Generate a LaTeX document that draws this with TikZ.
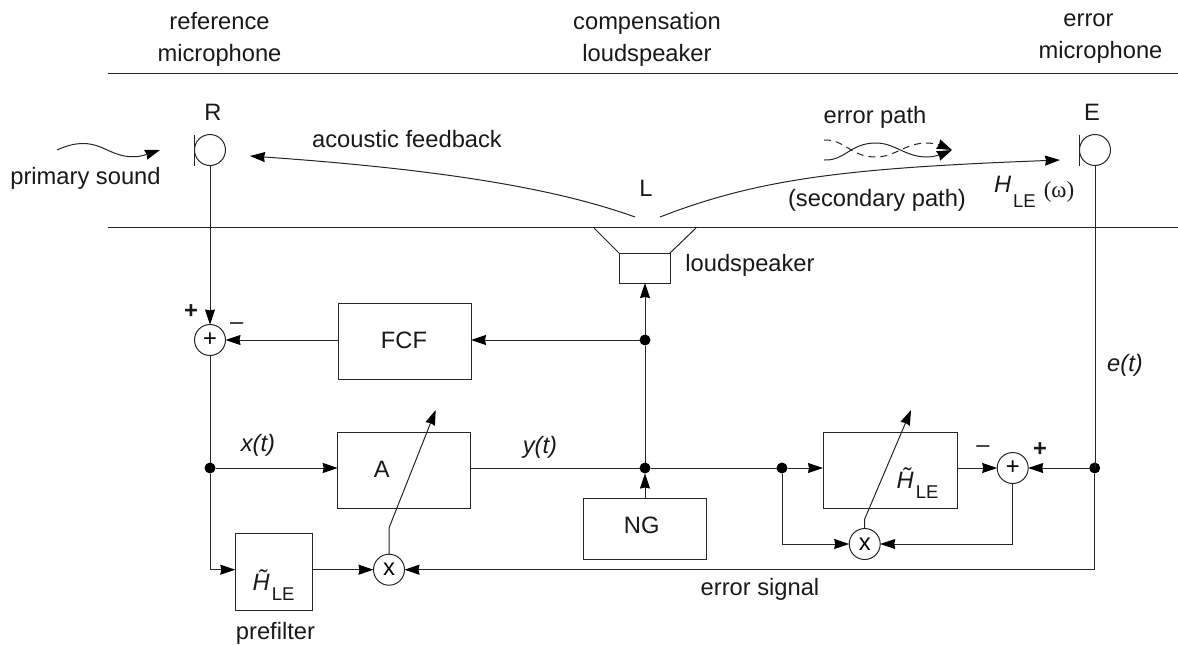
\documentclass[tikz,border=0pt]{standalone}
\usepackage{fontspec}
\setmainfont{Liberation Sans}
\newfontfamily\symfont{Liberation Serif}
\usetikzlibrary{arrows.meta}
\newcommand{\hle}{\textit{H^^^^0303}\hspace{2pt}\raisebox{-10pt}{\fontsize{18.5}{20}\selectfont LE}}
\tikzset{
  wire/.style={line width=1pt,draw=black!85},
  sig/.style={wire,-{Stealth[length=15pt,width=10pt,inset=1pt,color=black]}},
  blockbox/.style={draw=black!85,line width=1pt,inner sep=0pt,outer sep=0pt},
  circ/.style={circle,draw=black!85,line width=1pt,minimum size=31pt,inner sep=0pt,outer sep=0pt,font=\fontsize{23.7}{30}\selectfont},
  dotnode/.style={circle,fill=black,minimum size=11pt,inner sep=0pt,outer sep=0pt},
  txt/.style={inner sep=0pt,outer sep=0pt,font=\fontsize{23.7}{32}\selectfont,text=black!90},
}
\begin{document}
\begin{tikzpicture}[x=1pt,y=-1pt]
\useasboundingbox[fill=white] (0,0) rectangle (1178,645);
% rules
\coordinate (t1) at (108,73); \coordinate (t2) at (1178,73);
\coordinate (m1) at (108,227); \coordinate (m2) at (1178,227);
\draw[wire] (t1) -- (t2);
\draw[wire] (m1) -- (m2);
% top labels
\node[txt,align=center] (lref) at (219.5,39) {reference\\microphone};
\node[txt,align=center] (lcomp) at (647,39) {compensation\\loudspeaker};
\node[txt,align=center] (lerr) at (1100.5,39) {\mbox{error\hspace{24pt}}\\microphone};
% microphones
\node[circ] (R) at (210,150) {};
\node[circ] (E) at (1095,150) {};
\draw[wire] ([yshift=15.5pt]R.west) -- ([yshift=-15.5pt]R.west);
\draw[wire] ([yshift=15.5pt]E.west) -- ([yshift=-15.5pt]E.west);
\node[txt] (lR) at (213,112) {R};
\node[txt] (lE) at (1092,112) {E};
\node[txt] (lL) at (646,188) {L};
% acoustic labels
\node[txt] (lprim) at (85.5,178) {primary sound};
\node[txt] (lfb) at (407,139) {acoustic feedback};
\node[txt] (lep) at (875,117) {error path};
\node[txt] (lsp) at (877,200) {(secondary path)};
\node[txt,anchor=base west] (lH) at (994,192) {\textit{H}\hspace{2pt}\raisebox{-15pt}{\fontsize{18.5}{20}\selectfont LE}\hspace{8pt}{\symfont\fontsize{23}{23}\selectfont\raisebox{-5pt}{(ω)}}};
% acoustic paths
\coordinate (p0) at (57,150); \coordinate (p1) at (160,150);
\draw[sig] (p0) .. controls (75,142) and (88,141) .. (105,149) .. controls (118,155) and (130,160) .. (p1);
\coordinate (f0) at (635,217); \coordinate (f1) at (250,156);
\draw[sig] (f0) .. controls (560,190) and (450,170) .. (f1);
\coordinate (s0) at (660,217); \coordinate (s1) at (1060,160);
\draw[sig] (s0) .. controls (760,178) and (850,168) .. (s1);
\coordinate (e0) at (824,160); \coordinate (e1) at (824,140); \coordinate (e2) at (952,150);
\draw[sig] (e0) .. controls (845,161) and (850,143) .. (876,143) .. controls (895,143) and (905,157) .. (927,157) .. controls (935,157) and (945,153) .. (e2);
\draw[sig,dash pattern=on 7pt off 5pt] (e1) .. controls (845,139) and (850,157) .. (876,157) .. controls (895,157) and (905,143) .. (927,143) .. controls (935,143) and (945,147) .. (e2);
% loudspeaker
\node[blockbox,minimum width=51pt,minimum height=30pt] (spk) at (644.5,268) {};
\coordinate (c1) at (594,228); \coordinate (c2) at (696,228);
\draw[wire] (c1) -- (spk.north west);
\draw[wire] (c2) -- (spk.north east);
\node[txt] (lspk) at (750,265) {loudspeaker};
% blocks
\node[blockbox,minimum width=133pt,minimum height=76pt] (FCF) at (404.5,341) {};
\node[txt] at (404,340) {FCF};
\node[blockbox,minimum width=133pt,minimum height=76pt] (A) at (404.2,470) {};
\node[txt] at (381.7,469) {A};
\node[blockbox,minimum width=122.7pt,minimum height=61pt] (NG) at (644.7,528.8) {};
\node[txt] at (641.7,525) {NG};
\node[blockbox,minimum width=134pt,minimum height=76pt] (HB) at (890,470) {};
\node[txt,anchor=base west] at (896.7,488) {\hle};
\node[blockbox,minimum width=77pt,minimum height=76.7pt] (PF) at (273.8,572.3) {};
\node[txt,anchor=base west] at (252.7,590) {\hle};
\node[txt] (lpre) at (275.5,633) {prefilter};
% circles
\node[circ] (S1) at (210,340) {+};
\node[circ] (S2) at (1012.7,468) {+};
\node[circ] (XA) at (389,569.7) {x};
\node[circ] (XH) at (864.7,544) {x};
% dots
\node[dotnode] (dx) at (210,468) {};
\node[dotnode] (dc) at (645,468) {};
\node[dotnode] (dt) at (645,340) {};
\node[dotnode] (dh) at (782,468) {};
\node[dotnode] (de) at (1094.7,468) {};
% connectors
\draw[sig] (R.south) -- (S1.north);
\draw[wire] (S1.south) -- (dx);
\draw[sig] (dx) |- (PF.west |- XA);
\draw[sig] (dx) -- (A.west |- dx);
\draw[wire] (A.east |- dx) -- (dc);
\draw[wire] (dc) -- (dt);
\draw[sig] (dt) -- (dt |- spk.south);
\draw[sig] (dt) -- (FCF.east |- dt);
\draw[sig] (FCF.west |- S1.east) -- (S1.east);
\draw[sig] (dc |- NG.north) -- (dc);
\draw[wire] (dc) -- (dh);
\draw[sig] (dh) -- (HB.west |- dh);
\draw[sig] (HB.east |- S2.west) -- (S2.west);
\draw[sig] (de) -- (S2.east);
\draw[wire] (E.south) -- (E.south |- de);
\draw[sig] (de) |- (XA.east);
\draw[sig] (S2.south) |- (XH.east);
\draw[sig] (dh) |- (XH.west);
\draw[sig] (PF.east |- XA.west) -- (XA.west);
\coordinate (ka) at (389,528); \coordinate (ta) at (435.7,410);
\draw[sig] (XA.north) -- (ka) -- (ta);
\coordinate (kh) at (864.7,519); \coordinate (th) at (911,410);
\draw[sig] (XH.north) -- (kh) -- (th);
% signal labels
\node[txt] (lx) at (258,445) {\textit{x(t)}};
\node[txt] (ly) at (540,447) {\textit{y(t)}};
\node[txt] (le) at (1125,365) {\textit{e(t)}};
\node[txt] (les) at (760,589) {error signal};
\node[txt] (pl1) at (191,312) {\textbf{+}};
\node[txt] (mi1) at (236.7,326) {–};
\node[txt] (pl2) at (1040,450) {\textbf{+}};
\node[txt] (mi2) at (983,449) {–};
\end{tikzpicture}
\end{document}
